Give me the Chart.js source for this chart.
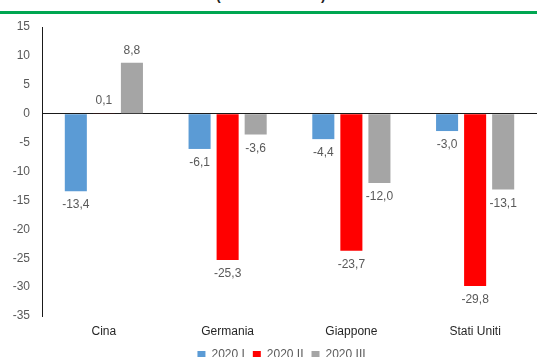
<!DOCTYPE html>
<html>
<head>
<meta charset="utf-8">
<script src="https://cdn.jsdelivr.net/npm/chart.js@4/dist/chart.umd.min.js"></script>
<style>
  html, body { margin: 0; padding: 0; background: #fff; overflow: hidden; }
  body { width: 537px; height: 357px; position: relative; }
  #green { position: absolute; left: 0; top: 11px; width: 537px; height: 3px; background: #00A651; }
  .paren { position: absolute; top: -13px; font: bold 14px "Liberation Sans", Arial, sans-serif; color: #222; }
  #wrap { position: absolute; left: 0; top: 0; width: 537px; height: 372px; }
</style>
</head>
<body>
<span class="paren" style="left:216px">(</span>
<span class="paren" style="left:321px">)</span>
<div id="green"></div>
<div id="wrap"><canvas id="c"></canvas></div>
<script>
const categories = ["Cina", "Germania", "Giappone", "Stati Uniti"];
const seriesNames = ["2020 I", "2020 II", "2020 III"];
const q1 = [-13.4, -6.1, -4.4, -3.0];
const q2 = [0.1, -25.3, -23.7, -29.8];
const q3 = [8.8, -3.6, -12.0, -13.1];
const yMin = -35, yMax = 15, yStep = 5;

const colors = ["#5B9BD5", "#FF0000", "#A5A5A5"];
const FONT = '"Liberation Sans", Arial, sans-serif';

const labelPlugin = {
  id: 'valueLabels',
  afterLayout(chart) {
    const lg = chart.legend;
    if (lg) { lg.left -= 8; lg.right -= 8; lg.top -= 1; lg.bottom -= 1; }
  },
  afterDatasetsDraw(chart) {
    const ctx = chart.ctx;
    ctx.save();
    ctx.font = '12px ' + FONT;
    ctx.fillStyle = '#595959';
    ctx.textAlign = 'center';
    ctx.textBaseline = 'middle';
    chart.data.datasets.forEach((ds, i) => {
      const meta = chart.getDatasetMeta(i);
      meta.data.forEach((el, j) => {
        const v = ds.data[j];
        const txt = v.toFixed(1).replace('.', ',');
        const y = v >= 0 ? el.y - 12 : el.y + 14;
        ctx.fillText(txt, el.x, y);
      });
    });
    ctx.restore();
  }
};

new Chart(document.getElementById('c'), {
  type: 'bar',
  data: {
    labels: categories,
    datasets: [q1, q2, q3].map((d, i) => ({
      label: seriesNames[i],
      data: d,
      backgroundColor: colors[i],
      borderWidth: 0,
      categoryPercentage: 0.68,
      barPercentage: 0.786
    }))
  },
  options: {
    responsive: true,
    maintainAspectRatio: false,
    animation: false,
    layout: { padding: { top: 27, right: 0, left: 0, bottom: 0 } },
    plugins: {
      legend: {
        position: 'bottom',
        fullSize: false,
        labels: {
          boxWidth: 8, boxHeight: 8, padding: 8,
          color: '#595959',
          font: { size: 12, family: FONT }
        }
      },
      tooltip: { enabled: false }
    },
    scales: {
      x: {
        grid: { display: false, drawTicks: false },
        border: { display: false },
        ticks: { color: '#262626', font: { size: 12, family: FONT }, padding: 8 },
        afterFit(s) { s.height = 26; }
      },
      y: {
        min: yMin, max: yMax,
        ticks: {
          stepSize: yStep, color: '#595959', padding: 12,
          font: { size: 12, family: FONT },
          callback: v => String(v)
        },
        grid: {
          drawTicks: false,
          color: c => (c.tick && c.tick.value === 0) ? '#1a1a1a' : 'rgba(0,0,0,0)',
          lineWidth: 1
        },
        border: { display: true, color: '#1a1a1a', width: 1 },
        afterFit(s) { s.width = 42; }
      }
    }
  },
  plugins: [labelPlugin]
});
</script>
</body>
</html>
